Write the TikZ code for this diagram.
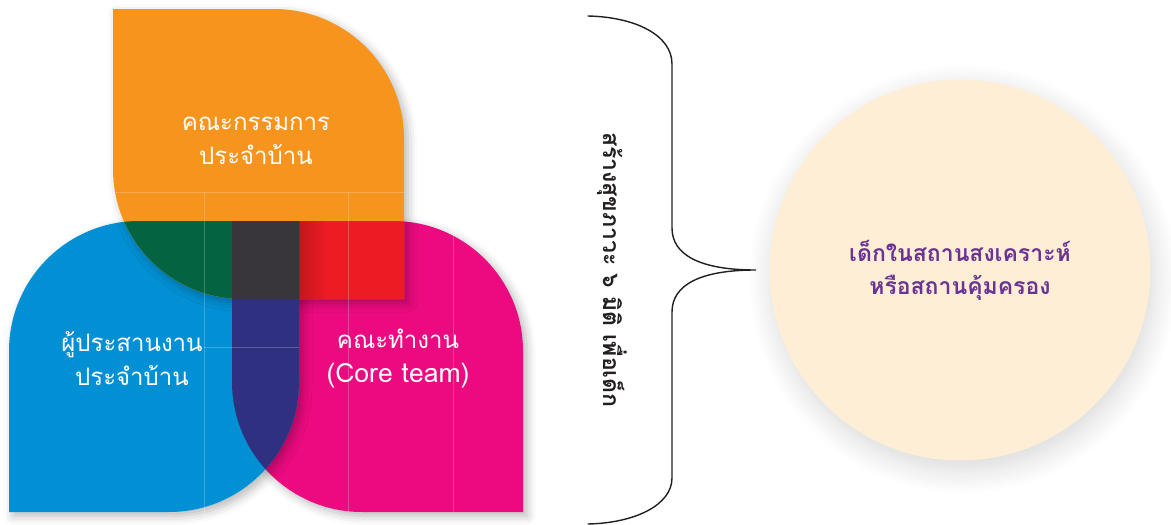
\documentclass[tikz,border=0pt]{standalone}
\usepackage{fontspec}
\newfontfamily\thaifont[Script=Thai]{Loma}
\usetikzlibrary{shadows.blur, fadings}

\definecolor{petalorange}{HTML}{F7941D}
\definecolor{petalblue}{HTML}{0290D4}
\definecolor{petalpink}{HTML}{EC0A80}
\definecolor{overgreen}{HTML}{046341}
\definecolor{overred}{HTML}{ED1C24}
\definecolor{overnavy}{HTML}{2F3180}
\definecolor{overgray}{HTML}{38363B}
\definecolor{childfill}{HTML}{FEEED6}
\definecolor{childtext}{HTML}{6A3394}
\definecolor{inkdark}{HTML}{231F20}

% petal outlines (pixel grid, y pointing down)
\newcommand{\orangepetal}{(113,9) -- (274,9) arc[start angle=270, end angle=360, radius=130] -- (404,299) -- (243,299) arc[start angle=90, end angle=180, radius=130] -- cycle}
\newcommand{\bluepetal}{(9,512) -- (9,351) arc[start angle=180, end angle=270, radius=130] -- (299,221) -- (299,382) arc[start angle=0, end angle=90, radius=130] -- cycle}
\newcommand{\pinkpetal}{(232,221) -- (393,221) arc[start angle=270, end angle=360, radius=130] -- (523,512) -- (362,512) arc[start angle=90, end angle=180, radius=130] -- cycle}

\begin{document}
\begin{tikzpicture}[x=1pt, y=-1pt,
    petalshadow/.style={blur shadow={shadow xshift=4pt, shadow yshift=-4pt, shadow blur radius=9pt, shadow opacity=28}},
    petallabel/.style={text=white, align=center, font=\thaifont\fontsize{24}{34}\selectfont},
    guide/.style={white, opacity=0.22, line width=0.6pt},
    bracestyle/.style={inkdark, line width=1.4pt, line cap=round}
]
    \useasboundingbox (0,0) rectangle (1171,525);

    % Petals
    \fill[petalpink, petalshadow] \pinkpetal;
    \fill[petalblue, petalshadow] \bluepetal;
    \fill[petalorange, petalshadow] \orangepetal;

    % Overlaps
    \begin{scope}
        \clip \orangepetal;
        \fill[overgreen] \bluepetal;
        \fill[overred] \pinkpetal;
        \fill[black, opacity=0.18, path fading=east] (299,221) rectangle (326,299);
    \end{scope}
    \begin{scope}
        \clip \bluepetal;
        \fill[overnavy] \pinkpetal;
        \clip \orangepetal;
        \fill[overgray] \pinkpetal;
    \end{scope}

    % Faint guide lines
    \draw[guide] (113,192) -- (404,192);
    \draw[guide] (204,192) -- (204,525);
    \draw[guide] (348,192) -- (348,512);
    \draw[guide] (453,221) -- (453,512);
    \draw[guide] (204,347) -- (299,347);

    % Petal labels
    \node[petallabel] (committee) at (256,141) {คณะกรรมการ\\ประจำบ้าน};
    \node[petallabel] (coordinator) at (132,359) {ผู้ประสานงาน\\ประจำบ้าน};
    \node[petallabel] (coreteam) at (398,359) {คณะทำงาน\\{\fontsize{26.5}{34}\selectfont(Core team)}};

    % Six dimensions
    \node[text=inkdark, rotate=-90, font=\thaifont\bfseries\fontsize{23}{28}\selectfont] (wellbeing) at (612,270) {สร้างสุขภาวะ ๖ มิติ เพื่อเด็ก};

    % Target group
    \node[circle, fill=childfill, minimum size=381pt, inner sep=0pt,
          blur shadow={shadow xshift=3pt, shadow yshift=-9pt, shadow blur radius=24pt, shadow opacity=16, shadow blur steps=12},
          text=childtext, align=center, font=\thaifont\bfseries\fontsize{23}{33}\selectfont]
          (children) at (960,270) {เด็กในสถานสงเคราะห์\\หรือสถานคุ้มครอง};

    % Brace
    \coordinate (bracetip) at (756,270);
    \draw[bracestyle] (588,16) .. controls (635,17) and (672,35) .. (672,64) -- (672,228)
        .. controls (672,255) and (700,270) .. (bracetip)
        .. controls (700,270) and (672,285) .. (672,312) -- (672,478)
        .. controls (672,505) and (635,523) .. (588,524);
\end{tikzpicture}
\end{document}
